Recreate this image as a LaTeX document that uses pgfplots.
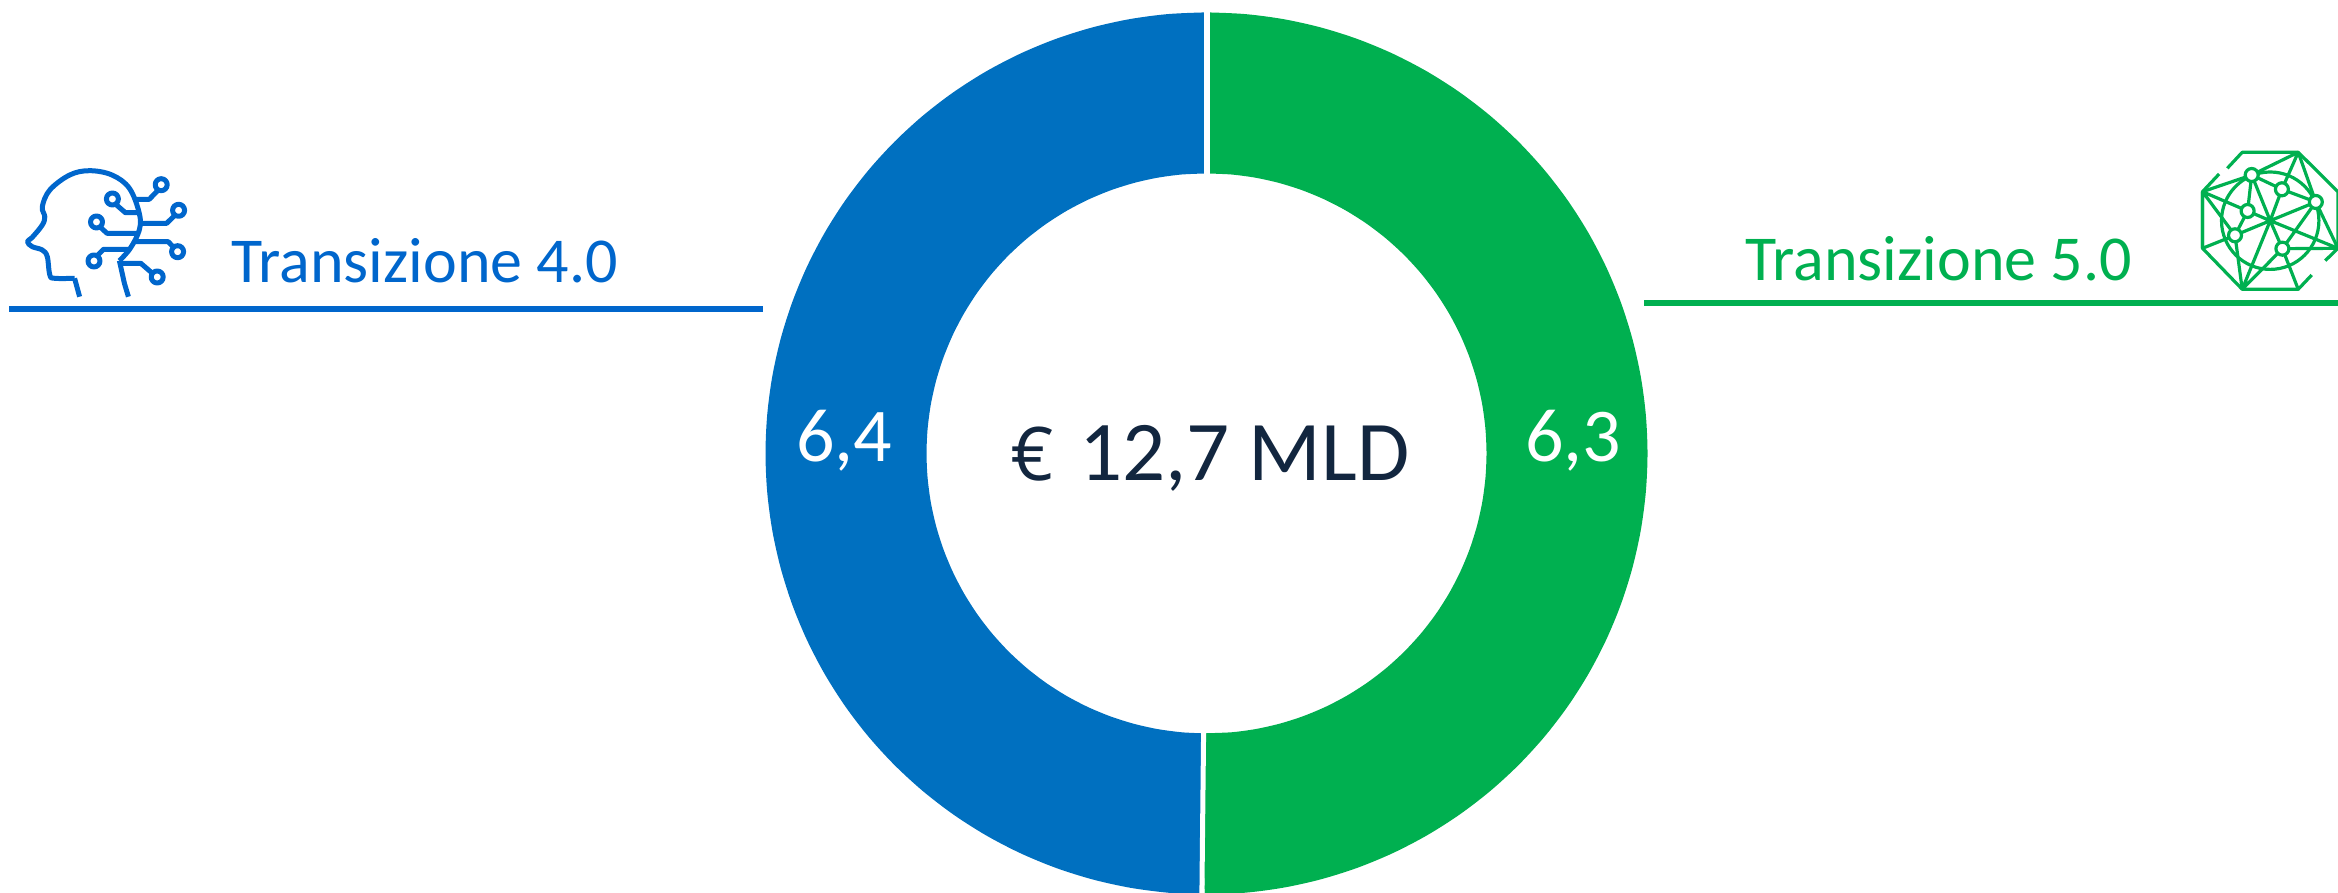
\documentclass[border=0pt]{standalone}
\usepackage{pgfplots}
\pgfplotsset{compat=1.18}
\usepackage{fontspec}
\setmainfont{Carlito}
\newfontfamily\eurofont{Open Sans}
\definecolor{blu}{HTML}{0070C0}
\definecolor{blutxt}{HTML}{0066CC}
\definecolor{verde}{HTML}{00B050}
\definecolor{navy}{HTML}{12263F}
\begin{document}
\begin{tikzpicture}
\useasboundingbox (0,0) rectangle (2338pt,892pt);
\begin{axis}[at={(0pt,0pt)},anchor=south west,scale only axis,width=2338pt,height=892pt,
  hide axis,xmin=-1206.5,xmax=1131.5,ymin=-438.6,ymax=453.4]
% Transizione 4.0 = 6,4 (ring sector, radius 280 to 441)
\addplot[blu,line width=161pt,smooth,line cap=butt,data cs=polar] coordinates {
(90,360.5)(95,360.5)(100,360.5)(105,360.5)(110,360.5)(115,360.5)(120,360.5)(125,360.5)(130,360.5)(135,360.5)(140,360.5)(145,360.5)(150,360.5)(155,360.5)(160,360.5)(165,360.5)(170,360.5)(175,360.5)(180,360.5)(185,360.5)(190,360.5)(195,360.5)(200,360.5)(205,360.5)(210,360.5)(215,360.5)(220,360.5)(225,360.5)(230,360.5)(235,360.5)(240,360.5)(245,360.5)(250,360.5)(255,360.5)(260,360.5)(265,360.5)(269.4,360.5)
};
% Transizione 5.0 = 6,3
\addplot[verde,line width=161pt,smooth,line cap=butt,data cs=polar] coordinates {
(90,360.5)(85,360.5)(80,360.5)(75,360.5)(70,360.5)(65,360.5)(60,360.5)(55,360.5)(50,360.5)(45,360.5)(40,360.5)(35,360.5)(30,360.5)(25,360.5)(20,360.5)(15,360.5)(10,360.5)(5,360.5)(0,360.5)(-5,360.5)(-10,360.5)(-15,360.5)(-20,360.5)(-25,360.5)(-30,360.5)(-35,360.5)(-40,360.5)(-45,360.5)(-50,360.5)(-55,360.5)(-60,360.5)(-65,360.5)(-70,360.5)(-75,360.5)(-80,360.5)(-85,360.5)(-90.6,360.5)
};
\addplot[white,line width=6pt,data cs=polar] coordinates {(90,270)(90,450)};
\addplot[white,line width=5pt,data cs=polar] coordinates {(269.4,270)(269.4,450)};
\end{axis}
\begin{scope}[shift={(0pt,892pt)},x=1pt,y=-1pt]
% rules
\fill[blutxt] (8.5,306.3) rectangle (763,312.3);
\fill[verde] (1643.5,300) rectangle (2338,306);
% text
\node[anchor=base west,inner sep=0pt,text=blutxt,font=\fontsize{64}{70}\selectfont] at (231,282.7) {Transizione 4.0};
\node[anchor=base west,inner sep=0pt,text=verde,font=\fontsize{64}{70}\selectfont] at (1745,280.7) {Transizione 5.0};
\node[anchor=base west,inner sep=0pt,text=navy,font=\eurofont\fontsize{74}{80}\selectfont] at (1010,481) {€};
\node[anchor=base west,inner sep=0pt,text=navy,font=\fontsize{85}{90}\selectfont] at (1079,481) {12,7 MLD};
\node[anchor=base west,inner sep=0pt,text=white,font=\fontsize{76}{84}\selectfont] at (796,462) {6,4};
\node[anchor=base west,inner sep=0pt,text=white,font=\fontsize{76}{84}\selectfont] at (1525,462) {6,3};
% head icon
\begin{scope}[draw=blutxt,line width=5pt,line join=round]
\draw plot[smooth,tension=0.6] coordinates {(74.6,278.3)(54.7,278.3)(49.8,275)(47.3,256.7)(42.3,250)(32.3,246.7)(27.4,241.7)(32.3,237.3)(42.3,225)(44.8,216.7)(42.3,206.7)(49.8,190)(69.7,175)(89.6,170.7)(112,175)(129.4,188.3)(139.3,213.3)(139.3,230)(130.3,248.3)(119.4,260.7)};
\draw (79.6,296.7)--(74.6,278.3);
\draw (119.4,260.7)--(124.4,283.3)--(128.4,296.7);
\draw (135.3,199.3)--(149.3,199.3)--(158.2,190);
\draw (161.2,184.7) circle (6);
\draw (138.3,212.7)--(125.4,212.7)--(115.4,204);
\draw (112.4,199) circle (6);
\draw (139.3,223.3)--(166.7,223.3)--(174.1,216);
\draw (178.6,210.3) circle (6);
\draw (136.8,233.3)--(107,233.3)--(100.5,227.3);
\draw (96.5,222) circle (6);
\draw (135.3,241.7)--(168.2,241.7)--(173.1,246.7);
\draw (177.6,251.7) circle (6);
\draw (130.3,249.3)--(103.5,249.3)--(98,255);
\draw (94,261) circle (6);
\draw (121.9,263.3)--(140.8,263.3)--(151.7,272.7);
\draw (157.2,277) circle (6);
\end{scope}
% network icon
\begin{scope}[draw=verde,line width=3.2pt,line join=round]
\coordinate (A) at (2242.2,152.3);\coordinate (B) at (2298.2,152.3);\coordinate (C) at (2337.9,191.7);\coordinate (D) at (2337.9,248.3);
\coordinate (E) at (2298.2,289.3);\coordinate (F) at (2242.2,289.3);\coordinate (G) at (2202.5,248.3);\coordinate (H) at (2202.5,191.7);
\coordinate (O) at (2270.2,220.7);
\coordinate (n1) at (2251.7,175);\coordinate (n2) at (2281.9,189.3);\coordinate (n3) at (2315.8,202);
\coordinate (n4) at (2247.6,211);\coordinate (n5) at (2235,235.3);\coordinate (n6) at (2282.4,248.7);
\draw (2227.3,168.3)--(A)--(B)--(C)--(D)--(2325.2,260.7);
\draw (2311.7,275)--(E)--(F)--(G)--(H)--(2219.1,174);
\draw (O) circle (48.7);
\draw (H)--(n1) (H)--(n4) (H)--(n5) (G)--(n5) (G)--(H);
\draw (n1)--(n4) (n1)--(n2) (n2)--(n3) (n1)--(B) (B)--(n2) (B)--(n3) (n3)--(D);
\draw (n3)--(O) (n3)--(n6) (n1)--(O) (n2)--(O) (n4)--(O) (n5)--(O) (O)--(D) (O)--(n6) (n6)--(D);
\draw (O)--(F) (n5)--(F) (n6)--(F) (n6)--(E) (n4)--(n5);
\foreach \n in {n1,n2,n3,n4,n5,n6} \filldraw[fill=white] (\n) circle (6.5);
\end{scope}
\end{scope}
\end{tikzpicture}
\end{document}
